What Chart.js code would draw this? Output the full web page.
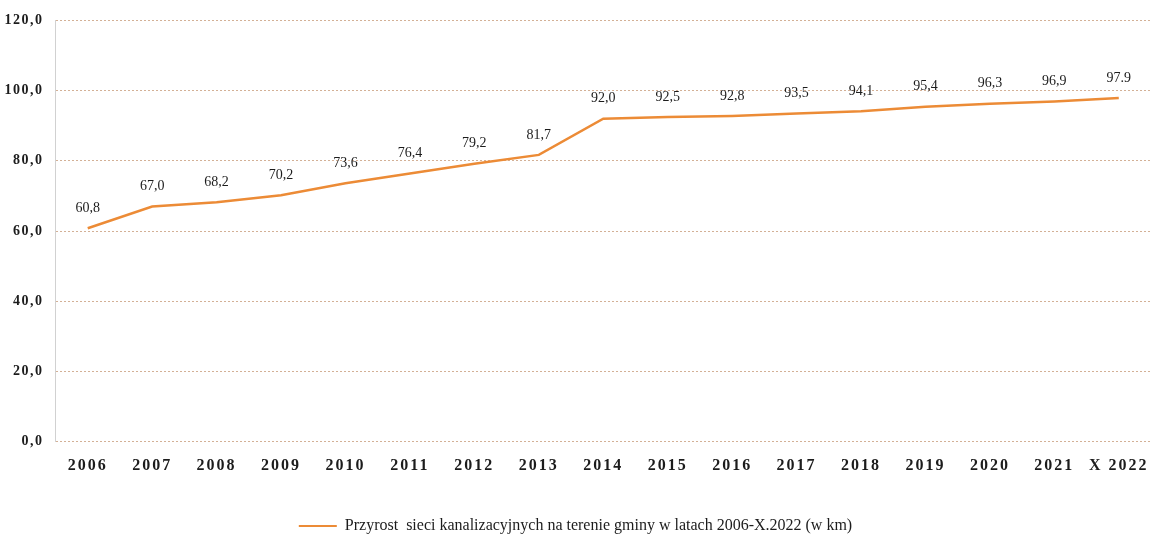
<!DOCTYPE html>
<html>
<head>
<meta charset="utf-8">
<script src="https://cdn.jsdelivr.net/npm/chart.js@4.4.1/dist/chart.umd.min.js"></script>
<style>
  body { margin: 0; background: #fff; }
</style>
</head>
<body>
<canvas id="sieci-graph" width="1157" height="540"></canvas>
<script>
const years = ['2006', '2007', '2008', '2009', '2010', '2011', '2012', '2013', '2014',
    '2015', '2016', '2017', '2018', '2019', '2020', '2021', 'X 2022'];
const lengthKm = [60.8, 67.0, 68.2, 70.2, 73.6, 76.4, 79.2, 81.7, 92.0,
    92.5, 92.8, 93.5, 94.1, 95.4, 96.3, 96.9, 97.9];
const pointLabels = ['60,8', '67,0', '68,2', '70,2', '73,6', '76,4', '79,2', '81,7', '92,0',
    '92,5', '92,8', '93,5', '94,1', '95,4', '96,3', '96,9', '97.9'];
const yTicks = [0, 20, 40, 60, 80, 100, 120];

const lineColor = '#ec8b36';
const textColor = '#1c1c1c';
const serif = "'Liberation Serif', 'Times New Roman', serif";

// napisy nad punktami
const valueLabels = {
    id: 'valueLabels',
    afterDatasetsDraw(chart) {
        const ctx = chart.ctx;
        const meta = chart.getDatasetMeta(0);
        ctx.save();
        ctx.font = '14px ' + serif;
        ctx.fillStyle = textColor;
        ctx.textAlign = 'center';
        ctx.textBaseline = 'middle';
        meta.data.forEach((pt, i) => {
            ctx.fillText(pointLabels[i], pt.x, pt.y - 20);
        });
        ctx.restore();
    }
};

// rozstrzelone etykiety osi
const spacedTicks = {
    id: 'spacedTicks',
    beforeDraw(chart) {
        [['x', '2px'], ['y', '1.5px']].forEach(([id, sp]) => {
            const s = chart.scales[id];
            if (s._spaced) return;
            const orig = s.drawLabels;
            s.drawLabels = function (area) {
                this.ctx.save();
                this.ctx.letterSpacing = sp;
                orig.call(this, area);
                this.ctx.restore();
            };
            s._spaced = true;
        });
    }
};

let sieciChart = document.getElementById('sieci-graph').getContext('2d');

let sieciLine = new Chart(sieciChart, {
    type: 'line',
    data: {
        labels: years,
        datasets: [{
            label: 'Przyrost  sieci kanalizacyjnych na terenie gminy w latach 2006-X.2022 (w km)',
            data: lengthKm,
            borderColor: lineColor,
            backgroundColor: lineColor,
            borderWidth: 2.5,
            pointRadius: 0,
            tension: 0
        }]
    },
    options: {
        responsive: false,
        animation: false,
        layout: {
            padding: { top: 13, right: 6, left: 0, bottom: -4 }
        },
        plugins: {
            legend: {
                position: 'bottom',
                labels: {
                    boxWidth: 38,
                    boxHeight: 2,
                    padding: 2,
                    color: textColor,
                    font: { family: serif, size: 16 },
                    generateLabels(chart) {
                        return Chart.defaults.plugins.legend.labels.generateLabels(chart)
                            .map(item => Object.assign(item, { lineWidth: 0 }));
                    }
                }
            },
            tooltip: { enabled: false }
        },
        scales: {
            x: {
                offset: true,
                grid: { display: false, drawTicks: false },
                border: { display: false },
                ticks: {
                    padding: 14,
                    color: textColor,
                    font: { family: serif, size: 16, weight: 'bold' },
                    maxRotation: 0,
                    autoSkip: false
                },
                afterFit(scale) {
                    scale.height += 27;
                }
            },
            y: {
                min: 0,
                max: 120,
                afterBuildTicks(scale) {
                    scale.ticks = yTicks.map(v => ({ value: v }));
                },
                grid: {
                    color: 'rgba(196, 150, 115, 0.75)',
                    drawTicks: false
                },
                border: {
                    display: true,
                    dash: [2, 2],
                    color: 'rgba(190, 190, 190, 0.7)'
                },
                ticks: {
                    padding: 12,
                    color: textColor,
                    font: { family: serif, size: 14, weight: 'bold' },
                    callback: v => v.toFixed(1).replace('.', ',')
                }
            }
        }
    },
    plugins: [valueLabels, spacedTicks]
});
// kropkowana siatka
sieciLine.options.scales.y.grid.borderDash = [2, 2];
sieciLine.update();
</script>
</body>
</html>
